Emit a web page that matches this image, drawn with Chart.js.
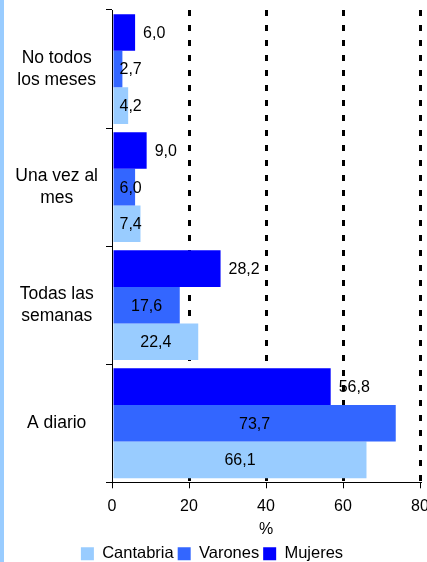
<!DOCTYPE html>
<html>
<head>
<meta charset="utf-8">
<script src="https://cdn.jsdelivr.net/npm/chart.js@4.4.1/dist/chart.umd.min.js"></script>
<style>
  body { margin: 0; background: #fff; }
  #wrap { position: relative; width: 427px; height: 562px; overflow: hidden; }
  #stripe { position: absolute; left: 0; top: 0; width: 4px; height: 562px; background: #99ccff; }
  #chart { position: absolute; left: 4px; top: 0; }
</style>
</head>
<body>
<div id="wrap">
  <div id="stripe"></div>
  <canvas id="chart" width="440" height="572"></canvas>
</div>
<script>
const categories = [['No todos', 'los meses'], ['Una vez al', 'mes'], ['Todas las', 'semanas'], 'A diario'];
const mujeres = [6.0, 9.0, 28.2, 56.8];
const varones = [2.7, 6.0, 17.6, 73.7];
const cantabria = [4.2, 7.4, 22.4, 66.1];
const xTicks = [0, 20, 40, 60, 80];

const FONT = '"Liberation Sans", Arial, sans-serif';

// etiquetas de valor con coma decimal
const valueLabels = {
    id: 'valueLabels',
    afterDatasetsDraw(chart) {
        const ctx = chart.ctx;
        ctx.save();
        ctx.font = '16px ' + FONT;
        ctx.fillStyle = '#000';
        ctx.textBaseline = 'middle';
        ctx.textAlign = 'center';
        chart.data.datasets.forEach((ds, i) => {
            chart.getDatasetMeta(i).data.forEach((bar, j) => {
                const txt = ds.data[j].toFixed(1).replace('.', ',');
                const w = ctx.measureText(txt).width;
                let cx;
                if (ds.label === 'Mujeres') {
                    cx = bar.x + 8 + w / 2;
                } else {
                    cx = Math.max((bar.base + bar.x) / 2, bar.base + w / 2 + 6);
                }
                ctx.fillText(txt, cx, bar.y + 1);
            });
        });
        ctx.restore();
    }
};

const ctx = document.getElementById('chart').getContext('2d');
const chart = new Chart(ctx, {
    type: 'bar',
    data: {
        labels: categories,
        datasets: [
            { label: 'Mujeres', data: mujeres, backgroundColor: '#0000ff' },
            { label: 'Varones', data: varones, backgroundColor: '#3366ff' },
            { label: 'Cantabria', data: cantabria, backgroundColor: '#99ccff' }
        ]
    },
    options: {
        indexAxis: 'y',
        responsive: false,
        animation: false,
        layout: { padding: { top: 10, left: 0, right: 24, bottom: 0 } },
        datasets: { bar: { categoryPercentage: 0.93, barPercentage: 1 } },
        scales: {
            x: {
                min: 0,
                max: 80,
                afterBuildTicks: (scale) => { scale.ticks = xTicks.map(v => ({ value: v })); },
                afterFit: (scale) => { scale.paddingLeft = 0; scale.paddingRight = 0; },
                grid: {
                    color: (c) => c.tick && c.tick.value === 0 ? 'rgba(0,0,0,0)' : '#000',
                    lineWidth: 3,
                    tickColor: '#000',
                    tickLength: 6,
                    tickWidth: 1
                },
                border: { display: true, color: '#000', width: 1, dash: [6, 9] },
                ticks: { color: '#000', font: { family: FONT, size: 16 }, padding: 9, maxRotation: 0 },
                title: { display: true, text: '%', color: '#000', font: { family: FONT, size: 16, lineHeight: 1 }, padding: { top: -4, bottom: 4 } }
            },
            y: {
                afterFit: (scale) => { scale.width = 108; scale.paddingTop = 0; scale.paddingBottom = 0; },
                grid: { offset: true, drawOnChartArea: false, tickLength: 6, tickColor: '#000' },
                border: { display: true, color: '#000', width: 1 },
                ticks: {
                    color: '#000',
                    crossAlign: 'center',
                    padding: 8,
                    font: { family: FONT, size: 17.5, lineHeight: 1.25 }
                }
            }
        },
        plugins: {
            legend: {
                position: 'bottom',
                reverse: true,
                labels: {
                    color: '#000',
                    boxWidth: 13,
                    boxHeight: 13,
                    padding: 4,
                    font: { family: FONT, size: 16.5 }
                }
            },
            tooltip: { enabled: false }
        }
    },
    plugins: [valueLabels]
});
</script>
</body>
</html>
